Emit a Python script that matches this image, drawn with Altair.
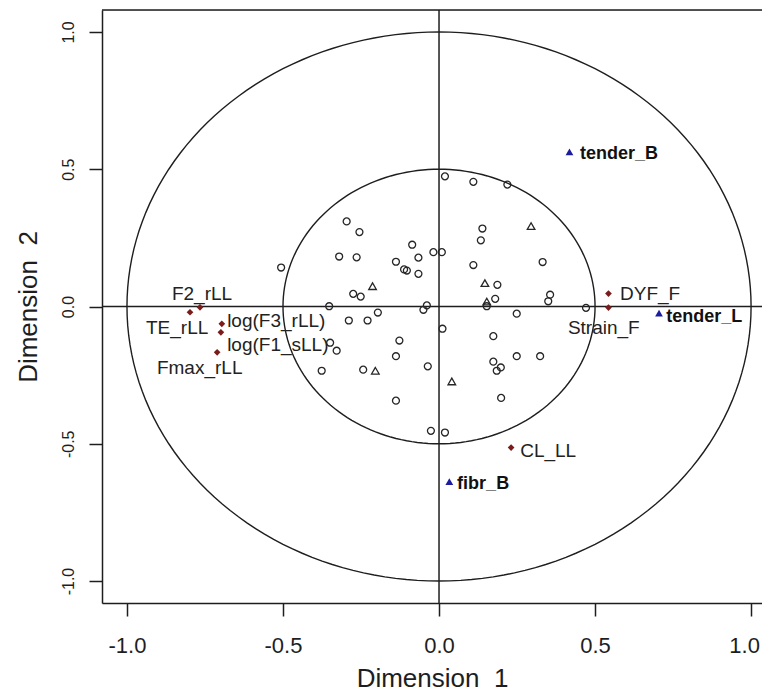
import altair as alt
import pandas as pd

# ---- data ----
# open circles (variables)
circ_x = [0.019, 0.110, 0.219, -0.296, -0.255, 0.139, 0.134, -0.506, -0.320, -0.264,
          -0.086, -0.066, -0.018, 0.009, -0.138, -0.112, -0.103, -0.066, 0.110, 0.332,
          -0.275, -0.251, 0.187, 0.180, 0.153, -0.352, -0.039, -0.050, -0.196, -0.289,
          -0.229, 0.249, 0.356, 0.350, 0.011, 0.174, -0.127, -0.349, -0.328, -0.138,
          0.249, 0.324, 0.174, 0.198, 0.185, -0.376, -0.243, -0.036, 0.199, -0.138,
          -0.026, 0.019, 0.471]
circ_y = [0.474, 0.454, 0.444, 0.310, 0.271, 0.284, 0.241, 0.142, 0.182, 0.179,
          0.225, 0.178, 0.198, 0.198, 0.163, 0.135, 0.131, 0.119, 0.151, 0.162,
          0.046, 0.036, 0.079, 0.028, 0.001, 0.001, 0.004, -0.012, -0.022, -0.051,
          -0.051, -0.026, 0.043, 0.019, -0.081, -0.108, -0.124, -0.132, -0.161, -0.181,
          -0.181, -0.181, -0.201, -0.222, -0.234, -0.234, -0.230, -0.218, -0.333, -0.343,
          -0.453, -0.459, -0.005]
# open triangles
tri_x = [0.295, -0.213, 0.147, 0.153, -0.204, 0.041]
tri_y = [0.293, 0.074, 0.085, 0.018, -0.234, -0.273]

# red diamonds with labels
red_names = ["F2_rLL", "TE_rLL", "log(F3_rLL)", "log(F1_sLL)", "Fmax_rLL",
             "DYF_F", "Strain_F", "CL_LL"]
red_x = [-0.766, -0.798, -0.696, -0.699, -0.711, 0.543, 0.543, 0.231]
red_y = [-0.003, -0.021, -0.063, -0.094, -0.167, 0.047, -0.004, -0.514]
red_lx = [-0.856, -0.939, -0.679, -0.679, -0.904, 0.580, 0.413, 0.260]
red_ly = [0.047, -0.077, -0.051, -0.139, -0.223, 0.044, -0.077, -0.526]

# blue triangles with bold labels
blue_names = ["tender_B", "tender_L", "fibr_B"]
blue_x = [0.418, 0.705, 0.033]
blue_y = [0.563, -0.024, -0.638]
blue_lx = [0.452, 0.728, 0.058]
blue_ly = [0.555, -0.040, -0.646]

radii = [0.5, 1.0]
ticks = [-1.0, -0.5, 0.0, 0.5, 1.0]
x_dom = [-1.08, 1.035]
y_dom = [-1.08, 1.08]

FONT = "Liberation Sans"
INK = "#1e1e1e"

xs = alt.Scale(domain=x_dom, nice=False, zero=False)
ys = alt.Scale(domain=y_dom, nice=False, zero=False)
lab = "datum.value < 0 ? '-' + format(-datum.value, '.1f') : format(datum.value, '.1f')"
xaxis = alt.Axis(values=ticks, title="Dimension\u00a0 1", grid=False, labelExpr=lab,
                 domainColor=INK, domainWidth=1.5, tickColor=INK, tickWidth=1.5,
                 tickSize=13, labelFontSize=22, labelPadding=19, labelFont=FONT,
                 labelColor=INK, labelFlush=False, labelOverlap=False,
                 labelOffset={"condition": {"test": "datum.value >= 1", "value": -7},
                              "value": 0},
                 titleFont=FONT, titleFontSize=26, titleFontWeight="normal",
                 titleColor=INK, titlePadding=9)
yaxis = alt.Axis(values=ticks, title="Dimension\u00a0 2", grid=False, labelExpr=lab,
                 domainColor=INK, domainWidth=1.5, tickColor=INK, tickWidth=1.5,
                 tickSize=13, labelFontSize=16, labelPadding=13, labelFont=FONT,
                 labelColor=INK, labelAngle=270, labelAlign="center",
                 labelBaseline="bottom", labelFlush=False, labelOverlap=False,
                 titleFont=FONT, titleFontSize=26, titleFontWeight="normal",
                 titleColor=INK, titlePadding=19)


def X(f):
    return alt.X(f, type="quantitative", scale=xs, axis=xaxis)


def Y(f):
    return alt.Y(f, type="quantitative", scale=ys, axis=yaxis)


layers = []
for r in radii:
    ring = alt.Chart(alt.sequence(0, 362, 2, as_="deg")).transform_calculate(
        cx=f"{r}*cos(datum.deg*PI/180)", cy=f"{r}*sin(datum.deg*PI/180)"
    ).mark_line(color=INK, strokeWidth=1.4).encode(x=X("cx"), y=Y("cy"), order="deg:Q")
    layers.append(ring)

zero = pd.DataFrame({"z": [0.0]})
layers.append(alt.Chart(zero).mark_rule(color=INK, strokeWidth=1.5).encode(y=Y("z")))
layers.append(alt.Chart(zero).mark_rule(color=INK, strokeWidth=1.5).encode(x=X("z")))
top = pd.DataFrame({"t": [y_dom[1]]})
layers.append(alt.Chart(top).mark_rule(color=INK, strokeWidth=1.5).encode(y=Y("t")))

cdf = pd.DataFrame({"x": circ_x, "y": circ_y})
layers.append(alt.Chart(cdf).mark_point(shape="circle", filled=False, color="#262626",
                                         size=48, strokeWidth=1.3, opacity=1).encode(x=X("x"), y=Y("y")))
tdf = pd.DataFrame({"x": tri_x, "y": tri_y})
layers.append(alt.Chart(tdf).mark_point(shape="triangle-up", filled=False, color="#262626",
                                         size=58, strokeWidth=1.3, opacity=1).encode(x=X("x"), y=Y("y")))

rdf = pd.DataFrame({"name": red_names, "x": red_x, "y": red_y, "lx": red_lx, "ly": red_ly})
layers.append(alt.Chart(rdf).mark_point(shape="diamond", filled=True, color="#7a1c1c",
                                         size=45, opacity=1).encode(x=X("x"), y=Y("y")))
layers.append(alt.Chart(rdf).mark_text(align="left", baseline="middle", fontSize=19,
                                        font=FONT, color="#222222").encode(
    x=X("lx"), y=Y("ly"), text="name:N"))

bdf = pd.DataFrame({"name": blue_names, "x": blue_x, "y": blue_y, "lx": blue_lx, "ly": blue_ly})
layers.append(alt.Chart(bdf).mark_point(shape="triangle-up", filled=True, color="#1c1ca0",
                                         size=60, opacity=1).encode(x=X("x"), y=Y("y")))
layers.append(alt.Chart(bdf).mark_text(align="left", baseline="middle", fontSize=18,
                                        fontWeight="bold", font=FONT, color="#111111").encode(
    x=X("lx"), y=Y("ly"), text="name:N"))

chart = alt.layer(*layers).properties(
    width=660, height=593,
    autosize=alt.AutoSizeParams(type="none"),
    padding={"left": 94, "top": 2, "right": 0, "bottom": 88},
).configure_view(stroke=None).configure(background="white")

chart.save("out.html", embed_options={"renderer": "svg", "actions": False})
